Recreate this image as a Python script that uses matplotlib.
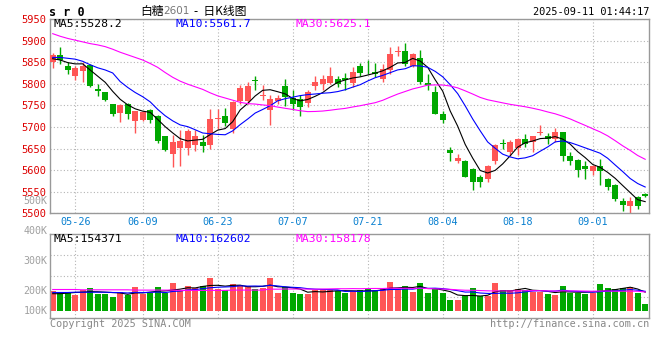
import numpy as np
import pandas as pd
import matplotlib
matplotlib.use('Agg')
import matplotlib.pyplot as plt


# daily candles (index 0 = first candle on the left)
opens = [5850, 5867, 5842, 5817, 5829, 5844, 5789, 5781, 5752, 5732,
	5754, 5714, 5715, 5740, 5725, 5678, 5637, 5652, 5652, 5658,
	5665, 5658, 5718, 5725, 5696, 5759, 5759, 5809, 5772, 5740,
	5759, 5794, 5767, 5764, 5756, 5794, 5800, 5802, 5812, 5814,
	5802, 5842, 5842, 5827, 5812, 5833, 5874, 5875, 5841, 5860,
	5802, 5782, 5731, 5646, 5622, 5622, 5603, 5584, 5579, 5620,
	5662, 5643, 5651, 5672, 5664, 5687, 5679, 5672, 5688, 5633,
	5624, 5610, 5599, 5610, 5579, 5566, 5528, 5516, 5538, 5545]
highs = [5871, 5885, 5850, 5840, 5850, 5846, 5800, 5782, 5754, 5752,
	5755, 5738, 5738, 5742, 5727, 5679, 5681, 5692, 5696, 5692,
	5681, 5742, 5742, 5745, 5760, 5796, 5805, 5817, 5796, 5773,
	5773, 5812, 5786, 5773, 5785, 5817, 5821, 5838, 5817, 5825,
	5838, 5848, 5854, 5848, 5846, 5886, 5888, 5895, 5872, 5878,
	5823, 5794, 5738, 5653, 5638, 5623, 5604, 5589, 5612, 5661,
	5672, 5670, 5674, 5684, 5679, 5705, 5687, 5698, 5689, 5641,
	5625, 5622, 5612, 5626, 5582, 5567, 5535, 5538, 5539, 5546]
lows = [5836, 5846, 5823, 5809, 5805, 5792, 5771, 5759, 5725, 5712,
	5719, 5686, 5713, 5708, 5663, 5645, 5608, 5610, 5635, 5645,
	5642, 5650, 5696, 5702, 5686, 5753, 5753, 5785, 5762, 5704,
	5754, 5748, 5740, 5725, 5746, 5785, 5785, 5800, 5792, 5785,
	5792, 5819, 5823, 5815, 5804, 5823, 5865, 5842, 5838, 5800,
	5785, 5729, 5709, 5622, 5616, 5584, 5553, 5561, 5572, 5615,
	5649, 5633, 5635, 5653, 5641, 5682, 5661, 5666, 5622, 5612,
	5584, 5579, 5589, 5566, 5555, 5528, 5505, 5501, 5509, 5538]
closes = [5866, 5854, 5833, 5836, 5842, 5794, 5783, 5762, 5731, 5750,
	5730, 5737, 5735, 5717, 5668, 5646, 5665, 5668, 5691, 5678,
	5655, 5719, 5720, 5709, 5758, 5791, 5794, 5807, 5774, 5765,
	5768, 5769, 5754, 5746, 5781, 5805, 5812, 5819, 5800, 5808,
	5828, 5825, 5840, 5822, 5835, 5868, 5876, 5846, 5869, 5804,
	5796, 5731, 5715, 5639, 5628, 5585, 5572, 5572, 5610, 5658,
	5660, 5666, 5672, 5661, 5678, 5688, 5672, 5689, 5632, 5620,
	5601, 5603, 5610, 5598, 5562, 5532, 5520, 5528, 5516, 5539]
# volume in thousands
volumes = [200, 191, 196, 186, 202, 209, 189, 189, 180, 196,
	186, 212, 189, 193, 212, 191, 226, 204, 216, 209,
	216, 242, 207, 202, 222, 219, 216, 207, 209, 242,
	192, 212, 192, 189, 190, 202, 206, 202, 199, 191,
	200, 202, 206, 200, 206, 229, 206, 216, 196, 226,
	192, 206, 192, 169, 169, 182, 209, 182, 182, 226,
	202, 202, 206, 202, 196, 196, 189, 186, 216, 192,
	192, 189, 192, 222, 209, 206, 209, 212, 192, 157]

# moving average values before enough candles are on screen
ma5_head = [5858, 5855, 5849, 5846]
ma10_head = [5861, 5861, 5859, 5857, 5852, 5844, 5837, 5832, 5825]
ma30_head = [5916, 5910, 5905, 5901, 5897, 5893, 5890, 5886, 5880, 5873,
	5867, 5861, 5855, 5847, 5838, 5826, 5815, 5806, 5799, 5793,
	5787, 5779, 5772, 5767, 5762, 5757, 5754, 5753, 5751]
vol_ma5_head = [190, 190, 192, 194]
vol_ma10_head = [194, 194, 194, 195, 195, 195, 195, 195, 194]
vol_ma30_head = [204, 204, 204, 204, 203, 203, 203, 203, 203, 203,
	203, 202, 202, 202, 202, 202, 202, 201, 201, 201,
	201, 201, 201, 201, 202, 202, 202, 202, 202]

date_labels = ['05-26', '06-09', '06-23', '07-07', '07-21', '08-04', '08-18', '09-01']
date_idx = [3, 12, 22, 32, 42, 52, 62, 72]
price_ticks = [5500, 5550, 5600, 5650, 5700, 5750, 5800, 5850, 5900, 5950]
vol_ticks = [500, 400, 300, 200]
vol_floor = 133


def movingAverage(values, n, head):
	ma = pd.Series(values, dtype=float).rolling(n).mean().to_numpy()
	ma[:n - 1] = head
	return ma


def figText(x, y, s, **kw):
	# x, y in pixels from the top left corner
	fig.text(x / 660, 1 - y / 360, s, va='center', **kw)


RED = '#ff5555'
GREEN = '#00a800'
GRID = '#b4b4b4'
FRAME = '#999999'

plt.rcParams['font.family'] = ['DejaVu Sans Mono', 'Noto Sans CJK SC']

fig = plt.figure(figsize=(6.6, 3.6), dpi=100)
ax = fig.add_axes([50 / 660, 1 - 213.3 / 360, 599.3 / 660, 194.3 / 360])
ax2 = fig.add_axes([50 / 660, 1 - 318 / 360, 599.3 / 660, 84 / 360])

o = np.array(opens)
c = np.array(closes)
x = np.arange(len(closes))
up = c >= o
colors = np.where(up, RED, GREEN)

# candles
ax.vlines(x, lows, highs, colors=colors, lw=1, zorder=2)
ax.bar(x, np.maximum(np.abs(c - o), 1.6), bottom=np.minimum(o, c), width=0.8,
	color=colors, lw=0, zorder=3)

ax.plot(x, movingAverage(closes, 5, ma5_head), color='black', lw=0.8, zorder=4)
ax.plot(x, movingAverage(closes, 10, ma10_head), color='#0000ff', lw=0.8, zorder=4)
ax.plot(x, movingAverage(closes, 30, ma30_head), color='#ff00ff', lw=0.8, zorder=4)

# volume
v = np.array(volumes)
ax2.bar(x, v - vol_floor, bottom=vol_floor, width=0.8, color=colors, lw=0, zorder=2)
ax2.plot(x, movingAverage(volumes, 5, vol_ma5_head), color='black', lw=0.8, zorder=4)
ax2.plot(x, movingAverage(volumes, 10, vol_ma10_head), color='#0000ff', lw=0.8, zorder=4)
ax2.plot(x, movingAverage(volumes, 30, vol_ma30_head), color='#ff00ff', lw=0.8, zorder=4)

xmin, xmax = -0.36, 79.55
for a in (ax, ax2):
	a.set_xlim(xmin, xmax)
	a.set_xticks(date_idx)
	for s in a.spines.values():
		s.set_color(FRAME)
		s.set_linewidth(1)
	a.grid(True, axis='x', color=GRID, lw=0.8, linestyle=(0, (1, 2)))
	a.set_axisbelow(True)

ax.set_ylim(5500, 5950)
ax.set_yticks(price_ticks)
ax.grid(True, axis='y', color=GRID, lw=0.8, linestyle=(0, (1, 2)))
ax.tick_params(axis='y', length=0, pad=3, labelcolor='#dd0000', labelsize=7.5)
ax.set_xticklabels(date_labels)
ax.tick_params(axis='x', length=0, pad=3, labelcolor='#0a80d0', labelsize=7.3)

ax2.set_ylim(109, 389)
ax2.set_yticks([])
ax2.set_xticklabels([])
ax2.tick_params(axis='x', length=0)
for f in (0.25, 0.5, 0.75):
	ax2.plot([0, 1], [f, f], transform=ax2.transAxes, color=GRID, lw=0.8,
		linestyle=(0, (1, 2)), zorder=1)

# volume axis labels (the upper ones sit above the panel)
ytr = ax2.get_yaxis_transform()
for t in vol_ticks:
	ax2.text(-0.004, t, '%dK' % t, transform=ytr, ha='right', va='center',
		color='#a0a0a0', fontsize=7.2, clip_on=False, zorder=0)
ax2.text(-0.004, vol_floor, '100K', transform=ytr, ha='right', va='center',
	color='#a0a0a0', fontsize=7.2, clip_on=False)

# header and legends
figText(49, 12.5, 's r 0', fontsize=8.5, fontweight='bold', color='black')
figText(140, 11, '白糖', fontsize=8.5, color='black', family=['Noto Sans CJK SC', 'DejaVu Sans'])
figText(163, 11, '2601', fontsize=7.5, color='#777777', family='DejaVu Sans')
figText(194, 11, '-  日K线图', fontsize=8.5, color='black', family=['Noto Sans CJK SC', 'DejaVu Sans'])
figText(649, 12, '2025-09-11 01:44:17', fontsize=7.4, color='black', ha='right')

figText(54, 24, 'MA5:5528.2', fontsize=8.2, color='black')
figText(175, 24, 'MA10:5561.7', fontsize=8.2, color='#0000ff')
figText(295, 24, 'MA30:5625.1', fontsize=8.2, color='#ff00ff')

figText(54, 238.5, 'MA5:154371', fontsize=8.2, color='black')
figText(175, 238.5, 'MA10:162602', fontsize=8.2, color='#0000ff')
figText(295, 238.5, 'MA30:158178', fontsize=8.2, color='#ff00ff')

figText(50, 324, 'Copyright 2025 SINA.COM', fontsize=7.3, color='#888888')
figText(649, 324, 'http://finance.sina.com.cn', fontsize=7.3, color='#888888', ha='right')

fig.savefig('out.png', dpi=100)
